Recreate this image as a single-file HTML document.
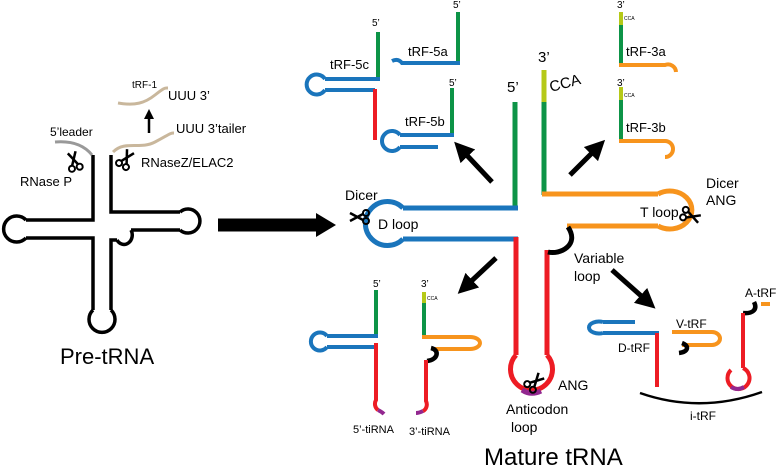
<!DOCTYPE html>
<html><head><meta charset="utf-8"><style>
html,body{margin:0;padding:0;background:#fff;}
svg{display:block;font-family:"Liberation Sans",sans-serif;}
</style></head><body>
<svg width="777" height="469" viewBox="0 0 777 469" xmlns="http://www.w3.org/2000/svg">
<defs>
<marker id="ah" markerWidth="4" markerHeight="4" refX="2" refY="2" orient="auto" markerUnits="strokeWidth">
<path d="M0,0 L4,2 L0,4 Z" fill="#000"/></marker>
<g id="sc" fill="none" stroke="#000">
<circle cx="-4" cy="7" r="3" stroke-width="2"/>
<circle cx="4" cy="7" r="3" stroke-width="2"/>
<path d="M-3,4 L4,-9" stroke-width="2.5"/>
<path d="M3,4 L-4,-9" stroke-width="2.5"/>
</g>
</defs>
<g fill="none" stroke-linecap="butt">
<!-- Pre-tRNA -->
<g stroke="#000" stroke-width="3.5">
<path d="M93,155 V220 H26"/>
<path d="M26,238 H93 V310"/>
<path d="M26,220 A13,13 0 1 0 26,238"/>
<path d="M111,155 V212 H180"/>
<path d="M180,230 H131"/>
<path d="M180,212 A12,12 0 1 1 180,230"/>
<path d="M131,230 A7,8 0 1 1 117,240"/>
<path d="M117,240 H111 V310"/>
<path d="M93,310 A13,13 0 1 0 111,310"/>
</g>
<path d="M55,142 Q80,140 92,155" stroke="#999" stroke-width="3"/>
<path d="M113,152 C125,140 140,150 155,142 S170,133 174,133" stroke="#c9b79c" stroke-width="3"/>
<path d="M118,103 C135,106 145,103 155,95 S165,88 168,88" stroke="#c9b79c" stroke-width="3"/>
<path d="M149,133 V114" stroke="#000" stroke-width="2.5" marker-end="url(#ah)"/>
<!-- big arrow -->
<path d="M218,225 H318" stroke="#000" stroke-width="13"/>
<path d="M316,213 L336,225 L316,237 Z" fill="#000"/>

<!-- Mature tRNA -->
<path d="M515,102 V210" stroke="#0d9447" stroke-width="5"/>
<path d="M518,208 H403" stroke="#1a75bc" stroke-width="5"/>
<path d="M518,239 H403" stroke="#1a75bc" stroke-width="5"/>
<path d="M403,208 A22,22 0 1 0 403,239" stroke="#1a75bc" stroke-width="5"/>
<path d="M516,237 V355" stroke="#ed1c24" stroke-width="5"/>
<path d="M547,250 V355" stroke="#ed1c24" stroke-width="5"/>
<path d="M516,355 A21,21 0 1 0 547,355" stroke="#ed1c24" stroke-width="5"/>
<path d="M522,390 Q531,396 541,391" stroke="#92278f" stroke-width="5"/>
<path d="M544,70 V102" stroke="#b5c918" stroke-width="5"/>
<path d="M544,102 V195" stroke="#0d9447" stroke-width="5"/>
<path d="M542,194 H658" stroke="#f7941d" stroke-width="5"/>
<path d="M567,226 H658" stroke="#f7941d" stroke-width="5"/>
<path d="M658,194 A22,19 0 1 1 658,226" stroke="#f7941d" stroke-width="5"/>
<path d="M568,227 C580,245 560,255 548,252" stroke="#000" stroke-width="5"/>

<!-- tRF-5c -->
<path d="M378,32 V80" stroke="#0d9447" stroke-width="4"/>
<path d="M380,79 H325" stroke="#1a75bc" stroke-width="4"/>
<path d="M375,90 H325" stroke="#1a75bc" stroke-width="4"/>
<path d="M325,79 A10,10 0 1 0 325,90" stroke="#1a75bc" stroke-width="4"/>
<path d="M375,89 V140" stroke="#ed1c24" stroke-width="4"/>
<!-- tRF-5a -->
<path d="M458,12 V64" stroke="#0d9447" stroke-width="4"/>
<path d="M460,63 H402 Q398,58 392,61" stroke="#1a75bc" stroke-width="4"/>
<!-- tRF-5b -->
<path d="M452,88 V136" stroke="#0d9447" stroke-width="4"/>
<path d="M454,135 H400" stroke="#1a75bc" stroke-width="4"/>
<path d="M438,147 H400" stroke="#1a75bc" stroke-width="4"/>
<path d="M400,135 A10,10 0 1 0 400,147" stroke="#1a75bc" stroke-width="4"/>
<!-- tRF-3a -->
<path d="M621,12 V26" stroke="#b5c918" stroke-width="4"/>
<path d="M621,25 V65" stroke="#0d9447" stroke-width="4"/>
<path d="M619,65 H665 A8,8 0 0 1 676,72" stroke="#f7941d" stroke-width="4"/>
<!-- tRF-3b -->
<path d="M621,87 V101" stroke="#b5c918" stroke-width="4"/>
<path d="M621,100 V140" stroke="#0d9447" stroke-width="4"/>
<path d="M619,141 H665 A8,8 0 0 1 665,157" stroke="#f7941d" stroke-width="4"/>
<!-- 5'-tiRNA -->
<path d="M376,290 V338" stroke="#0d9447" stroke-width="4"/>
<path d="M378,336 H327" stroke="#1a75bc" stroke-width="4"/>
<path d="M374,347 H327" stroke="#1a75bc" stroke-width="4"/>
<path d="M327,336 A9,9 0 1 0 327,347" stroke="#1a75bc" stroke-width="4"/>
<path d="M376,343 V400 A6,7 0 0 0 378,410" stroke="#ed1c24" stroke-width="4"/>
<path d="M378,410 Q382,412 384,414" stroke="#92278f" stroke-width="4"/>
<!-- 3'-tiRNA -->
<path d="M424,292 V304" stroke="#b5c918" stroke-width="4"/>
<path d="M424,303 V338" stroke="#0d9447" stroke-width="4"/>
<path d="M422,337 H470" stroke="#f7941d" stroke-width="4"/>
<path d="M433,349 H470" stroke="#f7941d" stroke-width="4"/>
<path d="M470,337 A10,6 0 1 1 470,349" stroke="#f7941d" stroke-width="4"/>
<path d="M431,348 C440,350 438,360 427,361" stroke="#000" stroke-width="4.5"/>
<path d="M426,360 V401 A6,7 0 0 1 423,411" stroke="#ed1c24" stroke-width="4"/>
<path d="M423,411 Q419,413 416,413" stroke="#92278f" stroke-width="4"/>
<!-- D-tRF -->
<path d="M635,322 H603" stroke="#1a75bc" stroke-width="4"/>
<path d="M659,333 H603" stroke="#1a75bc" stroke-width="4"/>
<path d="M603,322 A10,6 0 1 0 603,333" stroke="#1a75bc" stroke-width="4"/>
<path d="M657,333 V387" stroke="#ed1c24" stroke-width="4"/>
<!-- V-tRF -->
<path d="M672,332 H712" stroke="#f7941d" stroke-width="4"/>
<path d="M682,345 H712" stroke="#f7941d" stroke-width="4"/>
<path d="M712,332 A8,6.5 0 1 1 712,345" stroke="#f7941d" stroke-width="4"/>
<path d="M682,343 C690,346 688,352 679,353" stroke="#000" stroke-width="4.5"/>
<!-- A-tRF -->
<path d="M761,304 H770" stroke="#f7941d" stroke-width="4"/>
<path d="M754,302 C758,310 752,314 743,313" stroke="#000" stroke-width="4.5"/>
<path d="M743,313 V368" stroke="#ed1c24" stroke-width="4"/>
<path d="M743,368 A11,11 0 1 1 731,370" stroke="#ed1c24" stroke-width="4"/>
<path d="M731,387 Q737,391 744,387" stroke="#92278f" stroke-width="4"/>
<!-- i-tRF arc -->
<path d="M640,393 Q700,414 762,392" stroke="#000" stroke-width="2.5"/>
<!-- small arrows -->
<g stroke="#000" stroke-width="5" marker-end="url(#ah)">
<path d="M492,182 L461,149"/>
<path d="M570,175 L598,147"/>
<path d="M496,258 L465,287"/>
<path d="M612,270 L648,302"/>
</g>
</g>
<!-- scissors -->
<use href="#sc" transform="translate(74,161) rotate(-15)"/>
<use href="#sc" transform="translate(126,159) rotate(30)"/>
<use href="#sc" transform="translate(359,217) rotate(-90)"/>
<use href="#sc" transform="translate(691,216) rotate(110)"/>
<use href="#sc" transform="translate(535,382) rotate(45)"/>
<!-- text -->
<g fill="#000">
<text x="132" y="88" font-size="10">tRF-1</text>
<text x="168" y="100" font-size="13">UUU 3’</text>
<text x="176" y="133" font-size="13">UUU 3’tailer</text>
<text x="50" y="136" font-size="12">5’leader</text>
<text x="20" y="186" font-size="13">RNase P</text>
<text x="141" y="167" font-size="13">RNaseZ/ELAC2</text>
<text x="60" y="364" font-size="22">Pre-tRNA</text>
<text x="345" y="200" font-size="14">Dicer</text>
<text x="378" y="229" font-size="14">D loop</text>
<text x="507" y="92" font-size="15">5’</text>
<text x="538" y="62" font-size="15">3’</text>
<text x="551" y="92" font-size="15" transform="rotate(-15 551 92)">CCA</text>
<text x="706" y="188" font-size="14">Dicer</text>
<text x="706" y="205" font-size="14">ANG</text>
<text x="640" y="217" font-size="14">T loop</text>
<text x="574" y="263" font-size="14">Variable</text>
<text x="574" y="281" font-size="14">loop</text>
<text x="558" y="390" font-size="14">ANG</text>
<text x="506" y="414" font-size="14">Anticodon</text>
<text x="511" y="432" font-size="14">loop</text>
<text x="484" y="465" font-size="24">Mature tRNA</text>
<text x="330" y="69" font-size="13">tRF-5c</text>
<text x="372" y="26" font-size="10">5’</text>
<text x="408" y="56" font-size="13">tRF-5a</text>
<text x="453" y="8" font-size="10">5’</text>
<text x="405" y="126" font-size="13">tRF-5b</text>
<text x="449" y="86" font-size="10">5’</text>
<text x="626" y="56" font-size="13">tRF-3a</text>
<text x="617" y="8" font-size="10">3’</text>
<text x="624" y="20" font-size="5">CCA</text>
<text x="626" y="132" font-size="13">tRF-3b</text>
<text x="617" y="86" font-size="10">3’</text>
<text x="624" y="97" font-size="5">CCA</text>
<text x="353" y="433" font-size="11">5’-tiRNA</text>
<text x="409" y="435" font-size="11">3’-tiRNA</text>
<text x="373" y="287" font-size="10">5’</text>
<text x="421" y="287" font-size="10">3’</text>
<text x="427" y="300" font-size="5">CCA</text>
<text x="618" y="352" font-size="12">D-tRF</text>
<text x="676" y="328" font-size="12">V-tRF</text>
<text x="745" y="297" font-size="12">A-tRF</text>
<text x="690" y="420" font-size="12">i-tRF</text>
</g>
</svg>
</body></html>
